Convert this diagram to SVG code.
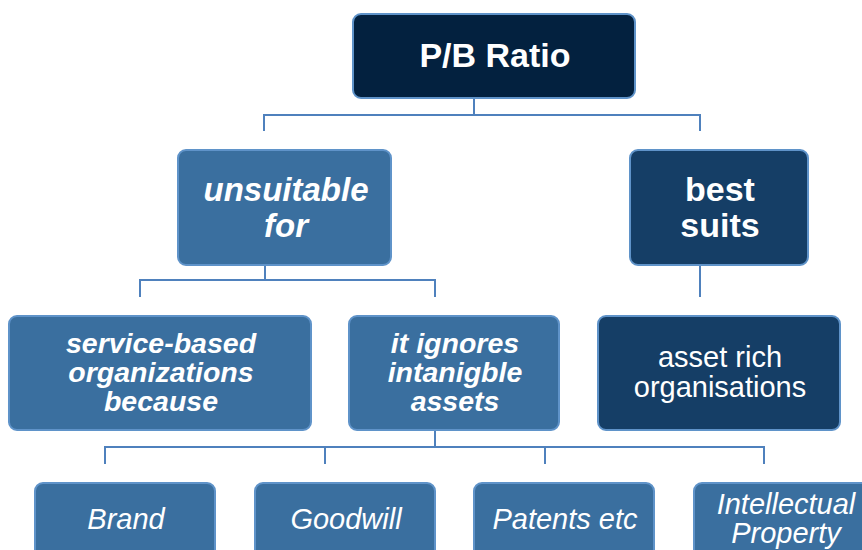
<svg xmlns="http://www.w3.org/2000/svg" width="862" height="550" viewBox="0 0 862 550">
<style>
.box{stroke:#5F93C9;stroke-width:2}
.mid{fill:#3A6F9F}
.dark{fill:#153E66}
.navy{fill:#03213F}
.t{fill:#fff;font-family:"Liberation Sans",Arial,sans-serif;text-anchor:middle}
.bi{font-weight:bold;font-style:italic}
.b{font-weight:bold}
.i{font-style:italic}
.conn{fill:none;stroke:#4F81BD;stroke-width:2}
</style>
<rect width="862" height="550" fill="#fff"/>
<g id="connectors" class="conn">
<path d="M474 98V115M264 131V115H700V131"/>
<path d="M265 265V280M140 297V280H435V297"/>
<path d="M700 265V297"/>
<path d="M435 430V447M105 464V447H764V464M325 447V464M545 447V464"/>
</g>
<g id="pb">
<rect class="box navy" x="353" y="14" width="282" height="84" rx="8"/>
<text class="t b" x="495" y="67" font-size="34">P/B Ratio</text>
</g>
<g id="unsuitable">
<rect class="box mid" x="178" y="150" width="213" height="115" rx="8"/>
<text class="t bi" font-size="33"><tspan x="286" y="201">unsuitable</tspan><tspan x="286" y="237">for</tspan></text>
</g>
<g id="best">
<rect class="box dark" x="630" y="150" width="178" height="115" rx="8"/>
<text class="t b" font-size="34"><tspan x="720" y="201">best</tspan><tspan x="720" y="237">suits</tspan></text>
</g>
<g id="service">
<rect class="box mid" x="9" y="316" width="302" height="114" rx="8"/>
<text class="t bi" font-size="28.5"><tspan x="161" y="353">service-based</tspan><tspan x="161" y="382">organizations</tspan><tspan x="161" y="411">because</tspan></text>
</g>
<g id="ignores">
<rect class="box mid" x="349" y="316" width="210" height="114" rx="8"/>
<text class="t bi" font-size="28.5"><tspan x="455" y="353">it ignores</tspan><tspan x="455" y="382">intanigble</tspan><tspan x="455" y="411">assets</tspan></text>
</g>
<g id="assetrich">
<rect class="box dark" x="598" y="316" width="242" height="114" rx="8"/>
<text class="t" font-size="29"><tspan x="720" y="367">asset rich</tspan><tspan x="720" y="397">organisations</tspan></text>
</g>
<g id="brand">
<rect class="box mid" x="35" y="483" width="180" height="90" rx="8"/>
<text class="t i" x="126" y="529" font-size="29">Brand</text>
</g>
<g id="goodwill">
<rect class="box mid" x="255" y="483" width="180" height="90" rx="8"/>
<text class="t i" x="346" y="529" font-size="29">Goodwill</text>
</g>
<g id="patents">
<rect class="box mid" x="474" y="483" width="180" height="90" rx="8"/>
<text class="t i" x="565" y="529" font-size="29">Patents etc</text>
</g>
<g id="ip">
<rect class="box mid" x="694" y="483" width="180" height="90" rx="8"/>
<text class="t i" font-size="29"><tspan x="786" y="514">Intellectual</tspan><tspan x="786" y="543">Property</tspan></text>
</g>
</svg>
